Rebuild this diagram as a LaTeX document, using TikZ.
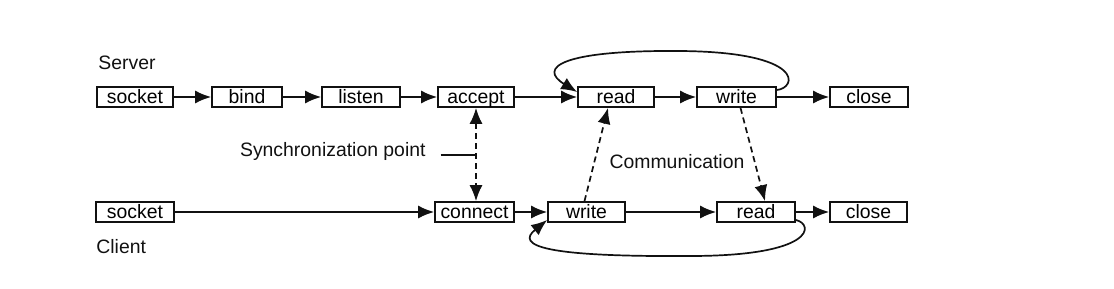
\documentclass[tikz,border=0pt]{standalone}
\usepackage{fontspec}
\setmainfont{Liberation Sans}
\usepackage{tikz}
\usetikzlibrary{arrows.meta,calc,positioning}
\definecolor{ink}{HTML}{111111}

\begin{document}
\begin{tikzpicture}[x=0.5pt,y=-0.5pt,>={Latex[length=8pt,width=6.5pt]},
    font=\fontsize{9.7}{11}\selectfont,
    box/.style={draw=ink,line width=0.85pt,minimum height=10pt,inner sep=0pt,
      text height=6.2pt,text depth=0pt},
    flow/.style={ink,line width=0.85pt,->},
    syncline/.style={ink,line width=0.85pt,dash pattern=on 3pt off 2pt},
    side/.style={anchor=west,inner sep=0pt,ink}]
  \useasboundingbox (0,0) rectangle (1114,289);
  \node[side] (server) at (98,63) {Server};
  \node[side] (client) at (96,247) {Client};
  \node[box,minimum width=38pt] (ssocket) at (135,97) {socket};
  \node[box,minimum width=35pt] (bind) at (247,97) {bind};
  \node[box,minimum width=39pt] (listen) at (361,97) {listen};
  \node[box,minimum width=38pt] (accept) at (476,97) {accept};
  \node[box,minimum width=38pt] (sread) at (616,97) {read};
  \node[box,minimum width=39.5pt] (swrite) at (736.5,97) {write};
  \node[box,minimum width=39pt] (sclose) at (869,97) {close};
  \node[box,minimum width=39pt] (csocket) at (135,212) {socket};
  \node[box,minimum width=39.5pt] (connect) at (474.5,212) {connect};
  \node[box,minimum width=38.5pt] (cwrite) at (586.5,212) {write};
  \node[box,minimum width=39pt] (cread) at (756,212) {read};
  \node[box,minimum width=38.5pt] (cclose) at (868.5,212) {close};
  \draw[flow] (ssocket) -- (bind); \draw[flow] (bind) -- (listen);
  \draw[flow] (listen) -- (accept); \draw[flow] (accept) -- (sread);
  \draw[flow] (sread) -- (swrite); \draw[flow] (swrite) -- (sclose);
  \draw[flow] (csocket) -- (connect); \draw[flow] (connect) -- (cwrite);
  \draw[flow] (cwrite) -- (cread); \draw[flow] (cread) -- (cclose);
  \draw[flow] ([yshift=3.5pt]swrite.east) .. controls (797,88) and (806,52) .. (680,51)
    .. controls (560,50) and (538,68) .. ([yshift=2.5pt]sread.west);
  \draw[flow] ([yshift=-4pt]cread.east) .. controls (814,224) and (816,256) .. (690,256)
    .. controls (545,257) and (515,246) .. ([yshift=-4pt]cwrite.west);
  \draw[syncline,<->] (accept.south) -- (accept.south |- connect.north);
  \node[anchor=west,ink] (synclabel) at (233,151) {Synchronization point};
  \draw[ink,line width=0.85pt] ([xshift=4pt]synclabel.east |- 0,155) -- (accept.south |- 0,155);
  \draw[syncline,->] ([xshift=-1pt]cwrite.north) -- ([xshift=-4pt]sread.south);
  \draw[syncline,->] ([xshift=2pt]swrite.south) -- ([xshift=4.5pt]cread.north);
  \node[ink] (comm) at (677,162) {Communication};
\end{tikzpicture}
\end{document}
